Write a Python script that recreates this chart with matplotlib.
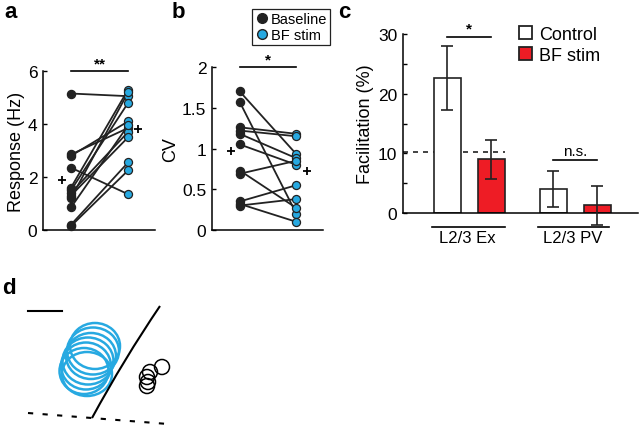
import matplotlib
matplotlib.use("Agg")
import matplotlib.pyplot as plt
import numpy as np
from matplotlib.lines import Line2D
from matplotlib.patches import Patch, Ellipse, Circle, PathPatch
from matplotlib.path import Path

W, H = 640, 427
BLUE = "#27A9E1"
RED = "#EE1C25"

# panel a: firing response, baseline -> BF stim (paired)
resp_base = [5.15, 2.85, 2.8, 2.35, 1.6, 1.5, 1.4, 1.3, 1.2, 0.85, 0.2, 0.15]
resp_bf = [5.05, 3.85, 4.1, 1.35, 5.3, 4.8, 3.7, 3.5, 5.2, 3.95, 2.55, 2.25]
resp_mean = [1.9, 3.8]

# panel b: CV, baseline -> BF stim (paired)
cv_base = [1.7, 1.57, 1.26, 1.22, 1.18, 1.05, 0.73, 0.69, 0.35, 0.32, 0.3]
cv_bf = [0.93, 0.2, 1.18, 1.15, 0.88, 0.8, 0.27, 0.85, 0.55, 0.1, 0.38]
cv_mean = [0.97, 0.73]

# panel c: facilitation
groups = ["L2/3 Ex", "L2/3 PV"]
fac_control = [22.6, 4.0]
fac_control_err = [5.4, 3.0]
fac_bf = [9.0, 1.3]
fac_bf_err = [3.3, 3.3]
fac_ref = 10.3

# panel d: outlines (pixel coordinates of the drawing)
blue_cells = [(95, 347, 50, 46), (93, 352, 52, 47), (91, 357, 50, 46),
              (88, 362, 51, 47), (86, 367, 50, 47), (84, 372, 49, 46),
              (87, 375, 50, 44)]
black_cells = [(162, 368), (150, 373), (147, 378), (148, 383), (147, 387)]
border_pts = [(160, 307), (124, 360), (92, 419)]

plt.rcParams["font.family"] = "Liberation Sans"
plt.rcParams["font.size"] = 10
plt.rcParams["axes.linewidth"] = 1.1


def px_box(x0, y0, x1, y1):
    return [x0 / W, 1 - y1 / H, (x1 - x0) / W, (y1 - y0) / H]


def style(ax):
    ax.spines["top"].set_visible(False)
    ax.spines["right"].set_visible(False)
    ax.set_xticks([])
    ax.tick_params(axis="y", direction="in", length=3, width=1, labelsize=12.5, pad=4)


def paired(ax, base, bf, means, ylim, yticks, yticklabels, ylabel, star):
    for b, s in zip(base, bf):
        ax.plot([1, 2], [b, s], color="#222222", lw=1.3, zorder=2)
    ax.plot(np.ones(len(base)), base, "o", ms=5.8, mfc="#222222", mec="#222222", zorder=3, clip_on=False)
    ax.plot(np.full(len(bf), 2), bf, "o", ms=5.8, mfc=BLUE, mec="#222222", mew=0.9, zorder=3, clip_on=False)
    ax.plot([0.84, 2.18], means, "+", color="black", ms=6, mew=1.3)
    ax.set_xlim(0.51, 2.47)
    ax.set_ylim(*ylim)
    ax.set_yticks(yticks)
    ax.set_yticklabels(yticklabels)
    ax.set_ylabel(ylabel, fontsize=13, labelpad=2)
    style(ax)
    top = ylim[1]
    ax.plot([1, 2], [top, top], color="black", lw=1.2, clip_on=False)
    ax.text(1.5, top * 1.005, star, ha="center", va="bottom", fontsize=11, fontweight="bold")


fig = plt.figure(figsize=(W / 100, H / 100), dpi=100)

ax_a = fig.add_axes(px_box(43, 72, 155, 231))
paired(ax_a, resp_base, resp_bf, resp_mean, (0, 6), [0, 2, 4, 6], ["0", "2", "4", "6"],
       "Response (Hz)", "**")

ax_b = fig.add_axes(px_box(212, 68, 323, 231))
paired(ax_b, cv_base, cv_bf, cv_mean, (0, 2), [0, 0.5, 1, 1.5, 2], ["0", "0.5", "1", "1.5", "2"],
       "CV", "*")

leg_handles = [
    Line2D([], [], ls="none", marker="o", ms=7, mfc="#222222", mec="#222222"),
    Line2D([], [], ls="none", marker="o", ms=7, mfc=BLUE, mec="#222222"),
]
leg = fig.legend(leg_handles, ["Baseline", "BF stim"], loc="upper left",
                 bbox_to_anchor=(252 / W, 1 - 10 / H), fontsize=10.5, frameon=True,
                 fancybox=False, edgecolor="#222222", framealpha=1, borderpad=0.2,
                 handletextpad=0.1, handlelength=1.0, labelspacing=0.15, borderaxespad=0)
leg.get_frame().set_linewidth(0.9)

# panel c
ax_c = fig.add_axes(px_box(403, 35, 638, 214))
ctrl_x = np.array([1.0, 3.4])
bf_x = ctrl_x + 1.0
bw = 0.61
ax_c.bar(ctrl_x, fac_control, width=bw, color="white", edgecolor="#222222", lw=1.2, zorder=2)
ax_c.bar(bf_x, fac_bf, width=bw, color=RED, edgecolor="#222222", lw=1.2, zorder=2)
ax_c.errorbar(ctrl_x, fac_control, yerr=fac_control_err, fmt="none", ecolor="#222222",
              elinewidth=1.2, capsize=4, capthick=1.2, zorder=3, clip_on=False)
ax_c.errorbar(bf_x, fac_bf, yerr=fac_bf_err, fmt="none", ecolor="#222222",
              elinewidth=1.2, capsize=4, capthick=1.2, zorder=3, clip_on=False)
ax_c.plot([0, 2.31], [fac_ref, fac_ref], ls=(0, (3, 3)), color="#222222", lw=1.2, zorder=1)
ax_c.set_xlim(0, 5.32)
ax_c.set_ylim(0, 30)
ax_c.set_yticks([0, 10, 20, 30])
ax_c.set_yticks([5, 15, 25], minor=True)
ax_c.tick_params(axis="y", which="minor", direction="in", length=3, width=1)
ax_c.set_ylabel("Facilitation (%)", fontsize=13, labelpad=3)
style(ax_c)
ax_c.plot([1, 2], [29.5, 29.5], color="black", lw=1.2, clip_on=False)
ax_c.text(1.5, 29.7, "*", ha="center", va="bottom", fontsize=11, fontweight="bold")
ax_c.plot([3.4, 4.4], [8.9, 8.9], color="black", lw=1.2, clip_on=False)
ax_c.text(3.9, 9.2, "n.s.", ha="center", va="bottom", fontsize=11)
for x0, x1, xt, name in [(0.65, 2.31, 1.45, groups[0]), (3.05, 4.66, 3.84, groups[1])]:
    ax_c.plot([x0, x1], [-2.3, -2.3], color="black", lw=1.2, clip_on=False)
    ax_c.text(xt, -2.8, name, ha="center", va="top", fontsize=12)

c_handles = [Patch(facecolor="white", edgecolor="#222222", lw=1.3),
             Patch(facecolor=RED, edgecolor="#222222", lw=1.3)]
ax_c.legend(c_handles, ["Control", "BF stim"], loc="upper left",
            bbox_to_anchor=(519 / W, 1 - 27 / H), bbox_transform=fig.transFigure,
            frameon=False, fontsize=13, handlelength=0.7, handleheight=0.75,
            handletextpad=0.4, labelspacing=0.2, borderaxespad=0, borderpad=0)

# panel d
ax_d = fig.add_axes(px_box(0, 270, 320, 427))
ax_d.set_xlim(0, 320)
ax_d.set_ylim(427, 270)
ax_d.axis("off")
for cx, cy, ew, eh in blue_cells:
    ax_d.add_patch(Ellipse((cx, cy), ew, eh, fill=False, ec=BLUE, lw=1.8))
for cx, cy in black_cells:
    ax_d.add_patch(Circle((cx, cy), 7.5, fill=False, ec="black", lw=1.1))
border = Path(border_pts, [Path.MOVETO, Path.CURVE3, Path.CURVE3])
ax_d.add_patch(PathPatch(border, fill=False, ec="black", lw=1.5))
ax_d.plot([28, 168], [414, 425], color="black", lw=1.5, ls=(0, (2.5, 4.5)))
ax_d.plot([28, 62], [312, 312], color="black", lw=1.5)

for label, x, y in [("a", 4, 2), ("b", 172, 2), ("c", 338, 2), ("d", 2, 278)]:
    fig.text(x / W, 1 - y / H, label, fontsize=16, fontweight="bold", ha="left", va="top")

fig.savefig("out.png", dpi=100)
